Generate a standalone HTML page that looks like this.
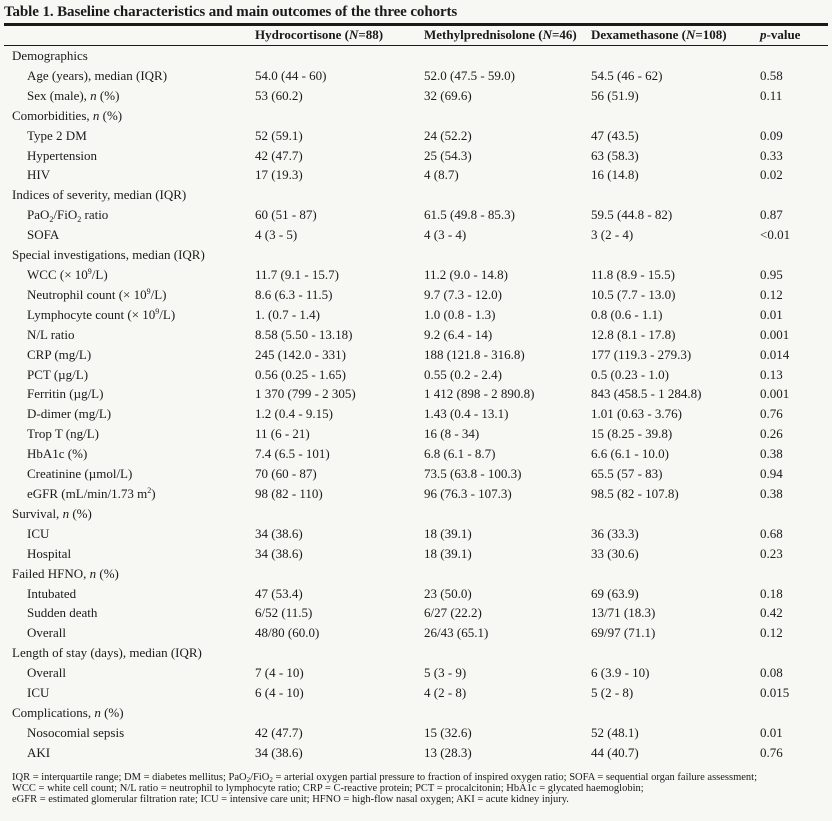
<!DOCTYPE html>
<html><head><meta charset="utf-8">
<style>
html,body{margin:0;padding:0}
body{width:832px;height:821px;background:#f7f7f3;position:relative;overflow:hidden;font-family:"Liberation Serif",serif;color:#1a1a1a}
.t{position:absolute;white-space:nowrap;font-size:13px;line-height:20px}
.t sup,.t sub{font-size:8px;line-height:0;position:relative;vertical-align:baseline}
.t sup{top:-5px}.t sub{top:3px}
.title{position:absolute;left:4px;top:4px;font-size:15px;font-weight:bold;white-space:nowrap;letter-spacing:-0.1px}
.hl{position:absolute;left:4px;width:824px;background:#1a1a1a}
.hd{position:absolute;top:25px;font-weight:bold;font-size:13px;line-height:20px;white-space:nowrap}
.fn{position:absolute;left:12px;font-size:10.5px;white-space:nowrap;letter-spacing:0;line-height:11px}
.fn sub{font-size:7px;line-height:0;position:relative;top:2px;vertical-align:baseline}
</style></head><body>
<div class="title">Table 1. Baseline characteristics and main outcomes of the three cohorts</div>
<div class="hl" style="top:23px;height:3px"></div>
<div class="hl" style="top:45px;height:1px"></div>
<div class="hd" style="left:255px">Hydrocortisone (<i>N</i>=88)</div>
<div class="hd" style="left:424px">Methylprednisolone (<i>N</i>=46)</div>
<div class="hd" style="left:591px">Dexamethasone (<i>N</i>=108)</div>
<div class="hd" style="left:760px"><i>p</i>-value</div>
<div id="rows"></div>
<div class="fn" style="top:772px">IQR = interquartile range; DM = diabetes mellitus; PaO<sub>2</sub>/FiO<sub>2</sub> = arterial oxygen partial pressure to fraction of inspired oxygen ratio; SOFA = sequential organ failure assessment;</div>
<div class="fn" style="top:783px">WCC = white cell count; N/L ratio = neutrophil to lymphocyte ratio; CRP = C-reactive protein; PCT = procalcitonin; HbA1c = glycated haemoglobin;</div>
<div class="fn" style="top:794px">eGFR = estimated glomerular filtration rate; ICU = intensive care unit; HFNO = high-flow nasal oxygen; AKI = acute kidney injury.</div>
<script>
const rows=[
["g","Demographics"],
["r","Age (years), median (IQR)","54.0 (44 - 60)","52.0 (47.5 - 59.0)","54.5 (46 - 62)","0.58"],
["r","Sex (male), <i>n</i> (%)","53 (60.2)","32 (69.6)","56 (51.9)","0.11"],
["g","Comorbidities, <i>n</i> (%)"],
["r","Type 2 DM","52 (59.1)","24 (52.2)","47 (43.5)","0.09"],
["r","Hypertension","42 (47.7)","25 (54.3)","63 (58.3)","0.33"],
["r","HIV","17 (19.3)","4 (8.7)","16 (14.8)","0.02"],
["g","Indices of severity, median (IQR)"],
["r","PaO<sub>2</sub>/FiO<sub>2</sub> ratio","60 (51 - 87)","61.5 (49.8 - 85.3)","59.5 (44.8 - 82)","0.87"],
["r","SOFA","4 (3 - 5)","4 (3 - 4)","3 (2 - 4)","&lt;0.01"],
["g","Special investigations, median (IQR)"],
["r","WCC (× 10<sup>9</sup>/L)","11.7 (9.1 - 15.7)","11.2 (9.0 - 14.8)","11.8 (8.9 - 15.5)","0.95"],
["r","Neutrophil count (× 10<sup>9</sup>/L)","8.6 (6.3 - 11.5)","9.7 (7.3 - 12.0)","10.5 (7.7 - 13.0)","0.12"],
["r","Lymphocyte count (× 10<sup>9</sup>/L)","1. (0.7 - 1.4)","1.0 (0.8 - 1.3)","0.8 (0.6 - 1.1)","0.01"],
["r","N/L ratio","8.58 (5.50 - 13.18)","9.2 (6.4 - 14)","12.8 (8.1 - 17.8)","0.001"],
["r","CRP (mg/L)","245 (142.0 - 331)","188 (121.8 - 316.8)","177 (119.3 - 279.3)","0.014"],
["r","PCT (µg/L)","0.56 (0.25 - 1.65)","0.55 (0.2 - 2.4)","0.5 (0.23 - 1.0)","0.13"],
["r","Ferritin (µg/L)","1 370 (799 - 2 305)","1 412 (898 - 2 890.8)","843 (458.5 - 1 284.8)","0.001"],
["r","D-dimer (mg/L)","1.2 (0.4 - 9.15)","1.43 (0.4 - 13.1)","1.01 (0.63 - 3.76)","0.76"],
["r","Trop T (ng/L)","11 (6 - 21)","16 (8 - 34)","15 (8.25 - 39.8)","0.26"],
["r","HbA1c (%)","7.4 (6.5 - 101)","6.8 (6.1 - 8.7)","6.6 (6.1 - 10.0)","0.38"],
["r","Creatinine (µmol/L)","70 (60 - 87)","73.5 (63.8 - 100.3)","65.5 (57 - 83)","0.94"],
["r","eGFR (mL/min/1.73 m<sup>2</sup>)","98 (82 - 110)","96 (76.3 - 107.3)","98.5 (82 - 107.8)","0.38"],
["g","Survival, <i>n</i> (%)"],
["r","ICU","34 (38.6)","18 (39.1)","36 (33.3)","0.68"],
["r","Hospital","34 (38.6)","18 (39.1)","33 (30.6)","0.23"],
["g","Failed HFNO, <i>n</i> (%)"],
["r","Intubated","47 (53.4)","23 (50.0)","69 (63.9)","0.18"],
["r","Sudden death","6/52 (11.5)","6/27 (22.2)","13/71 (18.3)","0.42"],
["r","Overall","48/80 (60.0)","26/43 (65.1)","69/97 (71.1)","0.12"],
["g","Length of stay (days), median (IQR)"],
["r","Overall","7 (4 - 10)","5 (3 - 9)","6 (3.9 - 10)","0.08"],
["r","ICU","6 (4 - 10)","4 (2 - 8)","5 (2 - 8)","0.015"],
["g","Complications, <i>n</i> (%)"],
["r","Nosocomial sepsis","42 (47.7)","15 (32.6)","52 (48.1)","0.01"],
["r","AKI","34 (38.6)","13 (28.3)","44 (40.7)","0.76"]
];
const colX=[255,424,591,760];
const host=document.getElementById('rows');
rows.forEach((r,i)=>{
  const top=46+i*19.91;
  const lab=document.createElement('div');
  lab.className='t';
  lab.style.left=(r[0]==='g'?12:27)+'px';
  lab.style.top=top+'px';
  lab.innerHTML=r[1];
  
  
  host.appendChild(lab);
  for(let c=2;c<r.length;c++){
    const d=document.createElement('div');
    d.className='t';
    d.style.left=colX[c-2]+'px';
    d.style.top=top+'px';
    d.innerHTML=r[c];
    
    
    host.appendChild(d);
  }
});
</script>
</body></html>
